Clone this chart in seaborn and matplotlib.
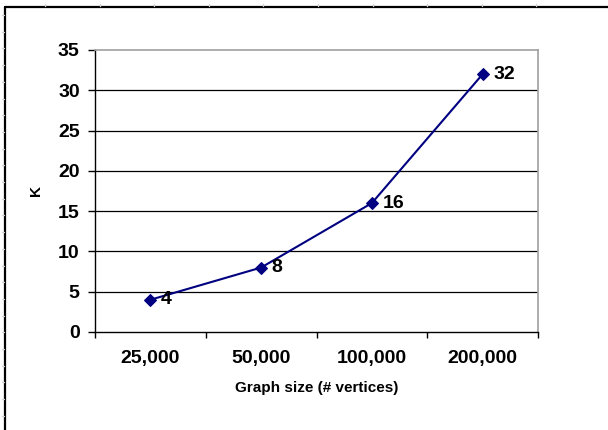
import matplotlib
matplotlib.use("Agg")
import matplotlib.pyplot as plt
from matplotlib.lines import Line2D
import seaborn as sns
import pandas as pd

# Graph sizes (number of vertices) and the K required for each
sizes = ["25,000", "50,000", "100,000", "200,000"]
k_values = [4, 8, 16, 32]
y_ticks = [0, 5, 10, 15, 20, 25, 30, 35]

sns.set_theme(style="white")
plt.rcParams["font.family"] = ["Liberation Sans", "DejaVu Sans"]

df = pd.DataFrame({"size": sizes, "K": k_values})

W, H = 608, 430
fig = plt.figure(figsize=(W / 100, H / 100), dpi=100)
fig.patch.set_facecolor("white")

# plot area in pixel geometry
left, right, top, bottom = 95, 538, 50, 332
ax = fig.add_axes([left / W, 1 - bottom / H, (right - left) / W, (bottom - top) / H])

sns.lineplot(data=df, x="size", y="K", ax=ax, sort=False,
             color="#000080", linewidth=1.5, marker="D", markersize=6.5,
             markeredgecolor="#000080", markerfacecolor="#000080")

for i, v in enumerate(k_values):
    ax.annotate(str(v), (i, v), xytext=(7.5, 0), textcoords="offset points",
                ha="left", va="center", fontsize=14, fontweight="bold", color="black")

ax.set_xlim(-0.5, len(sizes) - 0.5)
ax.set_ylim(0, 35)
ax.set_yticks(y_ticks)
ax.set_yticklabels([str(t) for t in y_ticks], fontsize=14, fontweight="bold")
ax.set_xticks(range(len(sizes)))
ax.set_xticklabels(sizes, fontsize=14, fontweight="bold")
ax.set_xticks([i - 0.5 for i in range(len(sizes) + 1)], minor=True)

ax.tick_params(axis="x", which="major", length=0, pad=13, colors="black")
ax.tick_params(axis="x", which="minor", length=4.5, width=1, direction="out",
               color="black", bottom=True)
ax.tick_params(axis="y", which="major", length=5, width=1, direction="out",
               pad=6, color="black", left=True, labelcolor="black")

# horizontal gridlines (the top one is the plot-area border)
for t in y_ticks[1:-1]:
    ax.axhline(t, color="black", linewidth=0.9, zorder=0.5)

for side in ["left", "bottom"]:
    ax.spines[side].set_color("black")
    ax.spines[side].set_linewidth(1.0)
for side in ["top", "right"]:
    ax.spines[side].set_color("#a0a0a0")
    ax.spines[side].set_linewidth(1.2)

ax.set_xlabel("Graph size (# vertices)", fontsize=11, fontweight="bold", color="black")
ax.set_ylabel("K", fontsize=11, fontweight="bold", color="black")
ax.xaxis.set_label_coords(0.5, (bottom - 381) / (bottom - top), transform=ax.transAxes)
ax.xaxis.label.set_va("top")
ax.yaxis.set_label_coords((43 - left) / (right - left), 0.5)

# sheet frame around the chart
def px(x, y):
    return x / W, 1 - y / H

fig.add_artist(Line2D([px(5, 7)[0], 1], [px(5, 7)[1]] * 2, color="black", linewidth=1.6))
fig.add_artist(Line2D([px(5, 7)[0]] * 2, [px(5, 7)[1], 0], color="black", linewidth=1.6))
for k in range(10):
    x = 45 + 54.6 * k
    fig.add_artist(Line2D([x / W] * 2, [1 - 4 / H, 1 - 6 / H], color="#d0d0d0", linewidth=1))
for k in range(26):
    y = 15 + 16.7 * k
    if y < H:
        fig.add_artist(Line2D([2 / W, 4 / W], [1 - y / H] * 2, color="#d0d0d0", linewidth=1))

fig.savefig("out.png", dpi=100, facecolor="white")
